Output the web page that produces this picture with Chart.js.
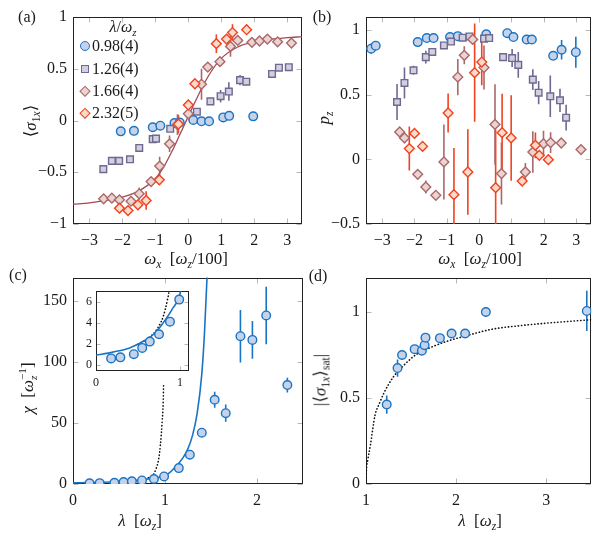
<!DOCTYPE html>
<html>
<head>
<meta charset="utf-8">
<script src="https://cdn.jsdelivr.net/npm/chart.js@4.4.0/dist/chart.umd.min.js"></script>
<style>
  body { margin: 0; background: #fff; }
  #fig { position: relative; width: 597px; height: 538px; font-family: 'Liberation Serif', 'DejaVu Serif', serif; color: #1a1a1a; overflow: hidden; }
  #fig canvas { position: absolute; }
  .lbl { position: absolute; transform: translate(-50%, -50%); white-space: nowrap; font-size: 17px; line-height: 1; }
  .rot { transform: translate(-50%, -50%) rotate(-90deg); }
  .lbl sub { font-size: 68%; vertical-align: -0.35em; line-height: 0; }
  .ss { display: inline-block; font-size: 66%; line-height: 0.95; vertical-align: -0.35em; text-align: left; }
  .leg { position: absolute; transform: translateY(-50%); font-size: 16px; line-height: 1; white-space: nowrap; }
  .mk { position: absolute; box-sizing: border-box; transform: translate(-50%, -50%); }
</style>
</head>
<body>
<div id="fig">
  <canvas id="ca" width="310" height="265" style="left:0;top:0"></canvas>
  <canvas id="cb" width="297" height="265" style="left:300px;top:0"></canvas>
  <canvas id="cc" width="310" height="276" style="left:0;top:262px"></canvas>
  <canvas id="cd" width="297" height="276" style="left:300px;top:262px"></canvas>
  <canvas id="ci" width="120" height="110" style="left:75px;top:280px"></canvas>

  <div class="lbl" style="left:27px;top:17px;font-size:16px">(a)</div>
  <div class="lbl" style="left:322px;top:17px;font-size:16px">(b)</div>
  <div class="lbl" style="left:18px;top:275px;font-size:16px">(c)</div>
  <div class="lbl" style="left:318px;top:276px;font-size:16px">(d)</div>

  <div class="lbl rot" style="left:30px;top:121px">⟨<i>σ</i><sub>1<i>x</i></sub>⟩</div>
  <div class="lbl" style="left:186px;top:258px"><i>ω</i><sub><i>x</i></sub>&nbsp;&nbsp;[<i>ω</i><sub><i>z</i></sub>/100]</div>
  <div class="lbl rot" style="left:323px;top:118px"><i>p</i><sub><i>z</i></sub></div>
  <div class="lbl" style="left:480px;top:258px"><i>ω</i><sub><i>x</i></sub>&nbsp;&nbsp;[<i>ω</i><sub><i>z</i></sub>/100]</div>
  <div class="lbl rot" style="left:28px;top:388px"><i>χ</i>&nbsp;&nbsp;[<i>ω</i><span class="ss">−1<br><i>z</i></span>]</div>
  <div class="lbl" style="left:140px;top:520px"><i>λ</i>&nbsp;&nbsp;[<i>ω</i><sub><i>z</i></sub>]</div>
  <div class="lbl rot" style="left:320px;top:380px">|⟨<i>σ</i><sub>1<i>x</i></sub>⟩<sub>sat</sub>|</div>
  <div class="lbl" style="left:480px;top:520px"><i>λ</i>&nbsp;&nbsp;[<i>ω</i><sub><i>z</i></sub>]</div>

  <div class="lbl" style="left:123px;top:27px;font-size:16px"><i>λ</i>/<i>ω</i><sub><i>z</i></sub></div>
  <div class="mk" style="left:85px;top:46px;width:10px;height:10px;border-radius:50%;border:1.5px solid #1a74c4;background:#c6d2ea"></div>
  <div class="mk" style="left:85px;top:69px;width:8px;height:8px;border:1.5px solid #6e6991;background:#d2d0de"></div>
  <div class="mk" style="left:85px;top:91px;width:7.5px;height:7.5px;border:1.5px solid #a9686b;background:#ebd3cf;transform:translate(-50%,-50%) rotate(45deg)"></div>
  <div class="mk" style="left:85px;top:113px;width:7.5px;height:7.5px;border:1.5px solid #f2411f;background:#fadbc9;transform:translate(-50%,-50%) rotate(45deg)"></div>
  <div class="leg" style="left:92px;top:46px">0.98(4)</div>
  <div class="leg" style="left:92px;top:69px">1.26(4)</div>
  <div class="leg" style="left:92px;top:91px">1.66(4)</div>
  <div class="leg" style="left:92px;top:113px">2.32(5)</div>
</div>
<script>
// ---- (a) <sigma_1x> vs omega_x, per lambda/omega_z ----
const aTicksX = [-3, -2, -1, 0, 1, 2, 3];
const aTicksY = [-1, -0.5, 0, 0.5, 1];
const aX098 = [-2.05, -1.65, -1.08, -0.85, -0.42, -0.26, 0.15, 0.4, 0.63, 1.06, 1.24, 1.97];
const aY098 = [-0.105, -0.1, -0.065, -0.05, -0.025, -0.02, 0.005, -0.008, -0.008, 0.03, 0.045, 0.04];
const aX126 = [-2.58, -2.32, -2.1, -1.77, -1.49, -1.08, -0.98, -0.55, 0.26, 0.67, 0.98, 1.23, 1.57, 1.76, 2.54, 2.75, 3.05];
const aY126 = [-0.47, -0.39, -0.39, -0.375, -0.265, -0.18, -0.175, -0.08, 0.085, 0.185, 0.235, 0.28, 0.39, 0.375, 0.45, 0.51, 0.515];
const aE126 = [0, 0, 0, 0, 0, 0, 0, 0, 0, 0.03, 0.06, 0.09, 0.05, 0, 0, 0, 0];
const aX166 = [-2.57, -2.32, -2.09, -1.74, -1.49, -1.13, -0.87, -0.57, -0.33, 0.0, 0.4, 0.59, 0.96, 1.28, 1.5, 1.93, 2.16, 2.4, 2.71, 3.13];
const aY166 = [-0.757, -0.75, -0.766, -0.78, -0.708, -0.59, -0.44, -0.225, -0.04, 0.065, 0.35, 0.516, 0.568, 0.716, 0.774, 0.755, 0.768, 0.787, 0.76, 0.748];
const aE166 = [0, 0, 0, 0.03, 0.06, 0, 0.09, 0.08, 0.1, 0, 0.15, 0, 0, 0.1, 0, 0, 0, 0, 0, 0];
const aX232 = [-2.09, -1.83, -1.53, -1.28, -0.88, -0.3, 0.0, 0.2, 0.85, 1.16, 1.34, 1.77];
const aY232 = [-0.847, -0.87, -0.815, -0.773, -0.573, -0.035, 0.15, 0.355, 0.742, 0.787, 0.85, 0.877];
const aE232 = [0, 0.03, 0.05, 0.09, 0.05, 0.09, 0.04, 0.03, 0.09, 0.03, 0.08, 0];
const aFitX = [-3.5, -3, -2.5, -2, -1.5, -1, -0.75, -0.5, -0.25, 0, 0.25, 0.5, 0.75, 1, 1.5, 2, 2.5, 3, 3.45];
const aFitY = [-0.81, -0.795, -0.772, -0.74, -0.68, -0.56, -0.45, -0.3, -0.13, 0.04, 0.21, 0.37, 0.5, 0.6, 0.71, 0.76, 0.785, 0.8, 0.81];

// ---- (b) p_z vs omega_x ----
const bTicksX = [-3, -2, -1, 0, 1, 2, 3];
const bTicksY = [-0.5, 0, 0.5, 1];
const bX098 = [-3.34, -3.2, -1.9, -1.62, -1.41, -0.9, -0.66, 0.22, 0.87, 1.06, 1.47, 1.63, 2.29, 2.55, 2.99];
const bY098 = [0.855, 0.878, 0.906, 0.937, 0.937, 0.945, 0.952, 0.966, 0.975, 0.945, 0.926, 0.926, 0.8, 0.847, 0.828];
const bE098 = [0.04, 0, 0, 0, 0, 0, 0, 0, 0, 0, 0, 0, 0, 0.075, 0.12];
const bX126 = [-2.54, -2.31, -2.03, -1.65, -1.45, -1.09, -0.87, -0.51, -0.3, 0.15, 0.31, 0.74, 1.02, 1.21, 1.66, 1.84, 2.2, 2.5, 2.69];
const bY126 = [0.443, 0.59, 0.688, 0.79, 0.83, 0.88, 0.91, 0.94, 0.95, 0.933, 0.937, 0.79, 0.783, 0.73, 0.616, 0.515, 0.487, 0.456, 0.322];
const bE126 = [0.14, 0.12, 0.035, 0.05, 0, 0, 0, 0, 0, 0, 0, 0, 0.07, 0.1, 0.08, 0.09, 0.16, 0.09, 0.1];
const bX166 = [-2.46, -2.31, -1.9, -1.65, -1.34, -1.09, -0.66, -0.46, -0.2, 0.15, 0.49, 0.69, 1.43, 1.66, 1.99, 2.21, 2.54, 3.15];
const bY166 = [0.211, 0.165, -0.116, -0.214, -0.278, -0.02, 0.636, 0.804, 0.927, 0.709, 0.27, -0.11, -0.098, 0.056, 0.121, 0.129, 0.126, 0.075];
const bE166 = [0, 0.04, 0.03, 0.05, 0, 0.29, 0.14, 0.07, 0, 0.17, 0.31, 0.24, 0.07, 0.16, 0.1, 0.08, 0, 0];
const bX232 = [-2.16, -2.0, -1.75, -0.96, -0.78, -0.35, -0.14, 0.08, 0.51, 0.71, 0.99, 1.33, 1.74, 1.86, 2.14];
const bY232 = [0.083, 0.2, 0.1, 0.358, -0.273, -0.098, 0.67, 0.752, -0.219, 0.206, 0.165, -0.168, 0.108, 0.031, -0.003];
const bE232 = [0.17, 0.03, 0.03, 0.15, 0.36, 0.33, 0.38, 0.18, 0.45, 0.3, 0.33, 0.03, 0.1, 0.03, 0.02];

// ---- (c) chi vs lambda (+ inset) ----
const cTicksX = [0, 1, 2];
const cTicksY = [0, 50, 100, 150];
const iTicksX = [0, 1];
const iTicksY = [0, 2, 4, 6];
const cLam = [0.18, 0.29, 0.45, 0.55, 0.64, 0.75, 0.88, 0.99, 1.15, 1.27, 1.4, 1.54, 1.66, 1.82, 1.95, 2.1, 2.33];
const cChi = [0.6, 0.7, 1.0, 1.6, 2.2, 2.9, 4.1, 6.2, 13, 24, 42, 69, 58, 121, 118, 138, 81];
const cErr = [0, 0, 0, 0, 0, 0, 0, 0, 0, 0, 0, 6.5, 7, 21.5, 15.5, 23.5, 6];
const cFitLam = [0, 0.2, 0.4, 0.6, 0.7, 0.8, 0.9, 1.0, 1.05, 1.1, 1.15, 1.2, 1.25, 1.3, 1.35, 1.4, 1.43, 1.46, 1.48];
const cFitChi = [0.9, 1.2, 1.6, 2.4, 3.0, 4.0, 5.2, 6.8, 9.3, 13, 17, 22, 29, 40, 58, 90, 125, 175, 210];
const cDotLam = [0.5, 0.6, 0.7, 0.75, 0.8, 0.85, 0.87, 0.9, 0.93, 0.95, 0.97, 0.98, 0.985];
const cDotChi = [1.95, 2.4, 3.1, 3.7, 4.6, 6.2, 7.2, 12, 20, 32, 52, 66, 82];

// ---- (d) |<sigma_1x>_sat| vs lambda ----
const dTicksX = [1, 2, 3];
const dTicksY = [0, 0.5, 1];
const dLam = [1.23, 1.35, 1.4, 1.54, 1.62, 1.65, 1.66, 1.82, 1.95, 2.1, 2.33, 3.45];
const dSat = [0.462, 0.674, 0.75, 0.784, 0.775, 0.807, 0.851, 0.848, 0.875, 0.875, 1.0, 1.006];
const dErr = [0.053, 0.05, 0, 0, 0, 0, 0, 0, 0, 0, 0.025, 0.117];
const dFitLam = [1.0, 1.005, 1.02, 1.05, 1.1, 1.15, 1.2, 1.3, 1.4, 1.55, 1.7, 1.9, 2.1, 2.4, 2.7, 3.0, 3.25, 3.5];
const dFitSat = [0, 0.08, 0.14, 0.23, 0.4, 0.47, 0.53, 0.62, 0.68, 0.75, 0.79, 0.83, 0.86, 0.9, 0.92, 0.935, 0.945, 0.955];

const INK = '#1a1a1a';
const SERIF = "'Liberation Serif', 'DejaVu Serif', serif";
const S098 = { shape: 'circle', r: 4.3, edge: '#1a74c4', fill: '#c6d2ea' };
const S126 = { shape: 'rect', r: 4.7, edge: '#6e6991', fill: '#d2d0de' };
const S166 = { shape: 'rectRot', r: 4.9, edge: '#a9686b', fill: '#ebd3cf' };
const S232 = { shape: 'rectRot', r: 4.9, edge: '#f2411f', fill: '#fadbc9' };

const fmt = v => (v < 0 ? '\u2212' + Math.abs(v) : String(v));
const pts = (xs, ys) => xs.map((x, i) => ({ x, y: ys[i] }));

function marks(xs, ys, errs, st, order) {
  return {
    data: pts(xs, ys), errors: errs, errColor: st.edge, order,
    pointStyle: st.shape, pointRadius: st.r, pointHoverRadius: st.r,
    pointBorderWidth: 1.4, pointBorderColor: st.edge, pointBackgroundColor: st.fill
  };
}

function curve(xs, ys, color, dash, width, order) {
  return {
    data: pts(xs, ys), showLine: true, pointRadius: 0, order,
    borderColor: color, borderWidth: width, borderDash: dash, borderCapStyle: 'round',
    cubicInterpolationMode: 'monotone'
  };
}

// frame + inner tick marks, pgfplots style
const frame = {
  id: 'frame',
  beforeDatasetsDraw(chart, args, opts) {
    const { ctx, chartArea: a, scales: { x, y } } = chart;
    const L = Math.round(a.left) + 0.5, R = Math.round(a.right) - 0.5;
    const T = Math.round(a.top) + 0.5, B = Math.round(a.bottom) - 0.5;
    const len = opts.len || 5;
    ctx.save();
    ctx.strokeStyle = '#b8b8b8';
    ctx.lineWidth = 1;
    ctx.beginPath();
    x.ticks.forEach(t => {
      const p = Math.round(x.getPixelForValue(t.value)) + 0.5;
      ctx.moveTo(p, B); ctx.lineTo(p, B - len);
      ctx.moveTo(p, T); ctx.lineTo(p, T + len);
    });
    y.ticks.forEach(t => {
      const p = Math.round(y.getPixelForValue(t.value)) + 0.5;
      ctx.moveTo(L, p); ctx.lineTo(L + len, p);
      ctx.moveTo(R, p); ctx.lineTo(R - len, p);
    });
    ctx.stroke();
    ctx.strokeStyle = '#222';
    ctx.strokeRect(L, T, R - L, B - T);
    ctx.restore();
  }
};

const errorBars = {
  id: 'errorBars',
  beforeDatasetsDraw(chart) {
    const { ctx, chartArea: a, scales: { x, y } } = chart;
    ctx.save();
    ctx.beginPath();
    ctx.rect(a.left, a.top, a.width, a.height);
    ctx.clip();
    chart.data.datasets.forEach(ds => {
      if (!ds.errors) return;
      ctx.strokeStyle = ds.errColor;
      ctx.lineWidth = 1.6;
      ds.data.forEach((p, j) => {
        const e = ds.errors[j];
        if (!e) return;
        const px = x.getPixelForValue(p.x);
        ctx.beginPath();
        ctx.moveTo(px, y.getPixelForValue(p.y - e));
        ctx.lineTo(px, y.getPixelForValue(p.y + e));
        ctx.stroke();
      });
    });
    ctx.restore();
  }
};

function makeChart(id, g, xr, yr, xt, yt, datasets) {
  const cv = document.getElementById(id);
  const font = { family: SERIF, size: g.fs };
  return new Chart(cv, {
    type: 'scatter',
    data: { datasets },
    options: {
      responsive: false,
      animation: false,
      events: [],
      layout: { padding: { top: g.top, right: cv.width - g.right, left: 0, bottom: 0 } },
      plugins: { legend: { display: false }, tooltip: { enabled: false }, frame: { len: g.tl } },
      scales: {
        x: {
          type: 'linear', min: xr[0], max: xr[1],
          afterFit: s => { s.height = cv.height - g.bottom; },
          afterBuildTicks: s => { s.ticks = xt.map(v => ({ value: v })); },
          grid: { display: false, drawTicks: false }, border: { display: false },
          ticks: { font, color: INK, padding: g.px, maxRotation: 0, autoSkip: false, callback: fmt }
        },
        y: {
          type: 'linear', min: yr[0], max: yr[1],
          afterFit: s => { s.width = g.left; },
          afterBuildTicks: s => { s.ticks = yt.map(v => ({ value: v })); },
          grid: { display: false, drawTicks: false }, border: { display: false },
          ticks: { font, color: INK, padding: g.py, autoSkip: false, callback: fmt }
        }
      }
    },
    plugins: [frame, errorBars]
  });
}

makeChart('ca', { left: 73, top: 17, right: 302, bottom: 224, fs: 16, px: 7, py: 6, tl: 5 },
  [-3.5, 3.45], [-1, 1], aTicksX, aTicksY, [
    marks(aX232, aY232, aE232, S232, 0),
    marks(aX166, aY166, aE166, S166, 1),
    marks(aX126, aY126, aE126, S126, 2),
    marks(aX098, aY098, null, S098, 3),
    curve(aFitX, aFitY, '#a24a52', [], 1.3, 4)
  ]);

makeChart('cb', { left: 66, top: 17, right: 294, bottom: 224, fs: 16, px: 7, py: 6, tl: 5 },
  [-3.5, 3.45], [-0.5, 1.1], bTicksX, bTicksY, [
    marks(bX232, bY232, bE232, S232, 0),
    marks(bX166, bY166, bE166, S166, 1),
    marks(bX126, bY126, bE126, S126, 2),
    marks(bX098, bY098, bE098, S098, 3)
  ]);

makeChart('cc', { left: 73, top: 15, right: 303, bottom: 222, fs: 16, px: 7, py: 6, tl: 5 },
  [0, 2.5], [0, 169], cTicksX, cTicksY, [
    marks(cLam, cChi, cErr, S098, 0),
    curve(cFitLam, cFitChi, '#1a74c4', [], 1.6, 1),
    curve(cDotLam, cDotChi, '#111', [0.3, 3], 1.6, 2)
  ]);

makeChart('ci', { left: 21, top: 6, right: 116, bottom: 91, fs: 12, px: 5, py: 4, tl: 4 },
  [0, 1.11], [-0.6, 7], iTicksX, iTicksY, [
    marks(cLam, cChi, null, S098, 0),
    curve(cFitLam, cFitChi, '#1a74c4', [], 1.6, 1),
    curve(cDotLam, cDotChi, '#111', [0.3, 3], 1.6, 2)
  ]);

makeChart('cd', { left: 66, top: 15, right: 296, bottom: 222, fs: 16, px: 7, py: 6, tl: 5 },
  [1, 3.5], [0, 1.2], dTicksX, dTicksY, [
    marks(dLam, dSat, dErr, S098, 0),
    curve(dFitLam, dFitSat, '#111', [0.3, 3], 1.6, 1)
  ]);
</script>
</body>
</html>
